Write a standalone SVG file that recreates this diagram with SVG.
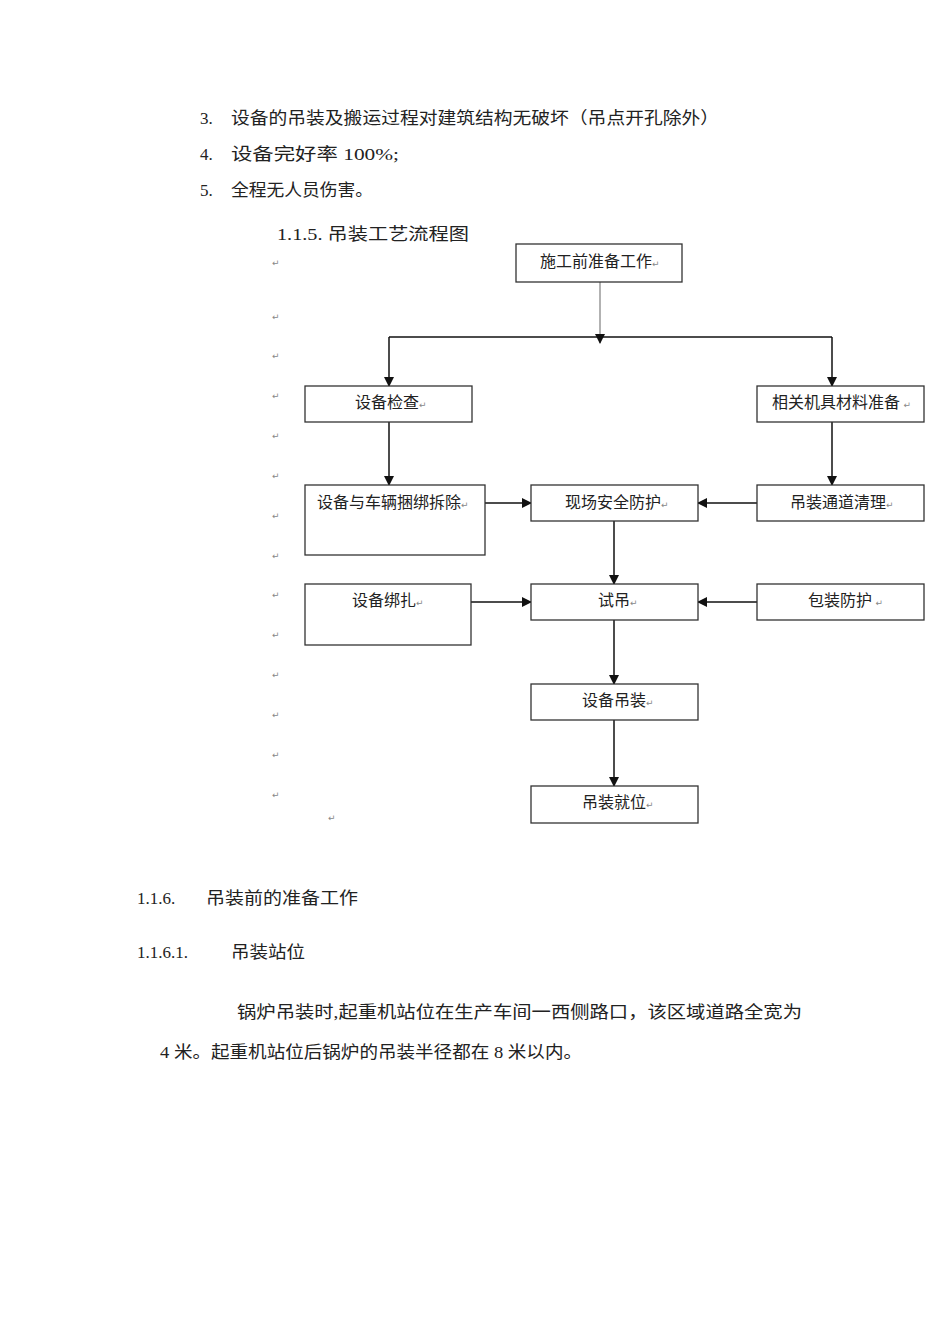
<svg xmlns="http://www.w3.org/2000/svg" width="950" height="1344" viewBox="0 0 950 1344">
<style>
.t{font-family:"Liberation Serif","Noto Sans CJK SC",serif;font-size:17px;fill:#222}
.b{fill:#fff;stroke:#333;stroke-width:1.3}
.n{font-family:"Noto Sans CJK SC",sans-serif;font-size:16px;fill:#222}
.r{font-family:"DejaVu Sans",sans-serif;font-size:9px;fill:#888}
.c{stroke:#111;stroke-width:1.5;fill:none}
</style>
<defs><marker id="a" markerWidth="10" markerHeight="10" refX="9" refY="5" orient="auto" markerUnits="userSpaceOnUse"><path d="M0,0L10,5L0,10z" fill="#111"/></marker></defs>
<text class="t" x="200" y="124">3.</text><text class="t" x="231" y="124" textLength="488" lengthAdjust="spacingAndGlyphs">设备的吊装及搬运过程对建筑结构无破坏（吊点开孔除外）</text>
<text class="t" x="200" y="160">4.</text><text class="t" x="231" y="160" textLength="168" lengthAdjust="spacingAndGlyphs">设备完好率 100%;</text>
<text class="t" x="200" y="196">5.</text><text class="t" x="231" y="196" textLength="142" lengthAdjust="spacingAndGlyphs">全程无人员伤害。</text>
<text class="t" x="277" y="240" textLength="192" lengthAdjust="spacingAndGlyphs">1.1.5. 吊装工艺流程图</text>
<g class="r"><text x="272" y="266">↵</text><text x="272" y="320">↵</text><text x="272" y="359">↵</text><text x="272" y="399">↵</text><text x="272" y="439">↵</text><text x="272" y="479">↵</text><text x="272" y="519">↵</text><text x="272" y="559">↵</text><text x="272" y="598">↵</text><text x="272" y="638">↵</text><text x="272" y="678">↵</text><text x="272" y="718">↵</text><text x="272" y="758">↵</text><text x="272" y="798">↵</text><text x="328" y="821">↵</text></g>
<g id="connectors">
<line x1="600" y1="282" x2="600" y2="343" stroke="#999" stroke-width="1.5" marker-end="url(#a)"/>
<path class="c" d="M389,337H832"/>
<line class="c" x1="389" y1="337" x2="389" y2="386" marker-end="url(#a)"/>
<line class="c" x1="832" y1="337" x2="832" y2="386" marker-end="url(#a)"/>
<line class="c" x1="389" y1="422" x2="389" y2="485" marker-end="url(#a)"/>
<line class="c" x1="832" y1="422" x2="832" y2="485" marker-end="url(#a)"/>
<line class="c" x1="470" y1="503" x2="531" y2="503" marker-end="url(#a)"/>
<line class="c" x1="757" y1="503" x2="698" y2="503" marker-end="url(#a)"/>
<line class="c" x1="614" y1="521" x2="614" y2="584" marker-end="url(#a)"/>
<line class="c" x1="471" y1="602" x2="531" y2="602" marker-end="url(#a)"/>
<line class="c" x1="757" y1="602" x2="698" y2="602" marker-end="url(#a)"/>
<line class="c" x1="614" y1="620" x2="614" y2="684" marker-end="url(#a)"/>
<line class="c" x1="614" y1="720" x2="614" y2="786" marker-end="url(#a)"/>
</g>
<g id="n1"><rect class="b" x="516" y="244" width="166" height="38"/><text class="n" x="540" y="267">施工前准备工作<tspan class="r">↵</tspan></text></g>
<g id="n2"><rect class="b" x="305" y="386" width="167" height="36"/><text class="n" x="355" y="408">设备检查<tspan class="r">↵</tspan></text></g>
<g id="n3"><rect class="b" x="757" y="386" width="167" height="36"/><text class="n" x="772" y="408">相关机具材料准备 <tspan class="r">↵</tspan></text></g>
<g id="n4"><rect class="b" x="305" y="485" width="180" height="70"/><text class="n" x="317" y="508">设备与车辆捆绑拆除<tspan class="r">↵</tspan></text></g>
<g id="n5"><rect class="b" x="531" y="485" width="167" height="36"/><text class="n" x="565" y="508">现场安全防护<tspan class="r">↵</tspan></text></g>
<g id="n6"><rect class="b" x="757" y="485" width="167" height="36"/><text class="n" x="790" y="508">吊装通道清理<tspan class="r">↵</tspan></text></g>
<g id="n7"><rect class="b" x="305" y="584" width="166" height="61"/><text class="n" x="352" y="606">设备绑扎<tspan class="r">↵</tspan></text></g>
<g id="n8"><rect class="b" x="531" y="584" width="167" height="36"/><text class="n" x="598" y="606">试吊<tspan class="r">↵</tspan></text></g>
<g id="n9"><rect class="b" x="757" y="584" width="167" height="36"/><text class="n" x="808" y="606">包装防护 <tspan class="r">↵</tspan></text></g>
<g id="n10"><rect class="b" x="531" y="684" width="167" height="36"/><text class="n" x="582" y="706">设备吊装<tspan class="r">↵</tspan></text></g>
<g id="n11"><rect class="b" x="531" y="786" width="167" height="37"/><text class="n" x="582" y="808">吊装就位<tspan class="r">↵</tspan></text></g>
<text class="t" x="137" y="904">1.1.6.</text><text class="t" x="206" y="904" textLength="152" lengthAdjust="spacingAndGlyphs">吊装前的准备工作</text>
<text class="t" x="137" y="958">1.1.6.1.</text><text class="t" x="231" y="958" textLength="74" lengthAdjust="spacingAndGlyphs">吊装站位</text>
<text class="t" x="237" y="1018" textLength="565" lengthAdjust="spacingAndGlyphs">锅炉吊装时,起重机站位在生产车间一西侧路口，该区域道路全宽为</text>
<text class="t" x="160" y="1058" textLength="422" lengthAdjust="spacingAndGlyphs">4 米。起重机站位后锅炉的吊装半径都在 8 米以内。</text>
</svg>
